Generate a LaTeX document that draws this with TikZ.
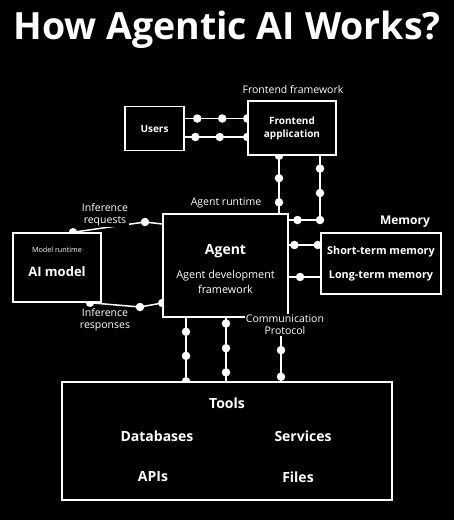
\documentclass[tikz,border=0pt]{standalone}
\usepackage{fontspec}
\setmainfont{Open Sans}
\usetikzlibrary{positioning}
\pgfdeclarelayer{canvas}
\pgfdeclarelayer{wires}
\pgfsetlayers{canvas,wires,main}

\tikzset{
  box/.style={draw=white, fill=black, line width=1.5pt, inner sep=0pt},
  wire/.style={draw=white, line width=1.5pt},
  dot/.style={circle, fill=white, inner sep=0pt, minimum size=8.5pt},
  txt/.style={text=white, font=\fontsize{10.5}{12}\selectfont, align=center, inner sep=1pt},
  bold/.style={text=white, font=\fontsize{10}{13}\selectfont\bfseries, align=center},
}

\begin{document}
\begin{tikzpicture}[x=1pt, y=-1pt]
	\useasboundingbox (0,0) rectangle (454,520);
	\begin{pgfonlayer}{canvas}
		\fill[black] (0,0) rectangle (454,520);
	\end{pgfonlayer}
	
	\node[text=white, font=\fontsize{37.5}{40}\selectfont\bfseries, anchor=base] (title) at (227,39) {How Agentic AI Works?};
	
	% boxes
	\node[box, bold, minimum width=59pt, minimum height=44pt] (users) at (154.5,128.5) {Users};
	\node[box, bold, minimum width=88pt, minimum height=54pt] (front) at (292,128) {Frontend\\application};
	\node[box, minimum width=125pt, minimum height=103pt] (agent) at (225.5,265.5) {};
	\node[box, minimum width=120pt, minimum height=61pt] (memory) at (381,263.5) {};
	\node[box, minimum width=88pt, minimum height=69pt] (model) at (57,267.5) {};
	\node[box, minimum width=330pt, minimum height=118pt] (tools) at (227,441) {};
	
	% texts in the boxes
	\node[bold, font=\fontsize{14}{16}\selectfont\bfseries] (agentname) at (225.5,251) {Agent};
	\node[txt, font=\fontsize{10.8}{15}\selectfont] (agentsub) at (225.5,282) {Agent development\\framework};
	\node[txt, font=\fontsize{7.2}{8}\selectfont] (modelsub) at (57,250) {Model runtime};
	\node[bold, font=\fontsize{13}{15}\selectfont\bfseries] (modelname) at (57,272) {AI model};
	\node[bold, font=\fontsize{10.8}{13}\selectfont\bfseries] (shortmem) at (381,252) {Short-term memory};
	\node[bold, font=\fontsize{10.8}{13}\selectfont\bfseries] (longmem) at (381,276) {Long-term memory};
	\node[bold, font=\fontsize{14}{16}\selectfont\bfseries] (toolsname) at (227,403) {Tools};
	\node[bold, font=\fontsize{14}{16}\selectfont\bfseries] (databases) at (157,436) {Databases};
	\node[bold, font=\fontsize{14}{16}\selectfont\bfseries] (services) at (303,436) {Services};
	\node[bold, font=\fontsize{14}{16}\selectfont\bfseries] (apis) at (153,477) {APIs};
	\node[bold, font=\fontsize{14}{16}\selectfont\bfseries] (files) at (298,477) {Files};
	
	% labels
	\node[txt] (frontlbl) at (293,90) {Frontend framework};
	\node[txt] (runtimelbl) at (226,203) {Agent runtime};
	\node[bold, font=\fontsize{12}{14}\selectfont\bfseries] (memlbl) at (405,222) {Memory};
	\node[txt, fill=black] (reqlbl) at (105,215) {Inference\\requests};
	\node[txt, fill=black] (reslbl) at (105,320) {Inference\\responses};
	\node[txt, fill=black] (comm) at (285,325) {Communication\\Protocol};
	
	\coordinate (reqbend) at (145,222);
	\coordinate (resbend) at (140,307);
	
	% connectors
	\begin{pgfonlayer}{wires}
		\draw[wire] ([yshift=10pt]users.east) -- ([yshift=10pt]users.east -| front.west)
			node[dot, pos=0.2] (ua1) {} node[dot, pos=0.6] (ua2) {} node[dot, pos=1] (ua3) {};
		\draw[wire] ([yshift=-8.5pt]users.east) -- ([yshift=-8.5pt]users.east -| front.west)
			node[dot, pos=0.17] (ub1) {} node[dot, pos=0.56] (ub2) {} node[dot, pos=1] (ub3) {};
		
		\draw[wire] ([xshift=-13pt]front.south) -- ([xshift=-13pt]front.south |- agent.north)
			node[dot, pos=0] (fa1) {} node[dot, pos=0.39] (fa2) {} node[dot, pos=0.81] (fa3) {};
		\draw[wire] ([xshift=28pt]front.south) |- ([yshift=45.5pt]agent.east)
			node[dot, pos=0.1] (fb1) {} node[dot, pos=0.29] (fb2) {} node[dot, pos=0.5] (fb3) {} node[dot, pos=0.86] (fb4) {};
		
		\draw[wire] ([yshift=20.5pt]agent.east) -- ([yshift=20.5pt]agent.east -| memory.west)
			node[dot, pos=0.18] (ma1) {} node[dot, pos=0.92] (ma2) {};
		\draw[wire] ([yshift=-11.5pt]agent.east) -- ([yshift=-11.5pt]agent.east -| memory.west)
			node[dot, pos=0.36] (mb1) {};
		
		\draw[wire] ([yshift=41.5pt]agent.west) -- (reqbend) node[dot] (rq1) {}
			-- ([xshift=16pt]model.north) node[dot] (rq2) {};
		\draw[wire] ([yshift=-37.5pt]agent.west) node[dot] (rs0) {} -- (resbend) node[dot] (rs1) {}
			-- ([xshift=33pt]model.south) node[dot] (rs2) {};
		
		\draw[wire] ([xshift=-39.5pt]agent.south) -- ([xshift=-39.5pt]agent.south |- tools.north)
			node[dot, pos=0.22] (ta1) {} node[dot, pos=0.6] (ta2) {} node[dot, pos=1] (ta3) {};
		\draw[wire] ([xshift=0.5pt]agent.south) -- ([xshift=0.5pt]agent.south |- tools.north)
			node[dot, pos=0.09] (tb1) {} node[dot, pos=0.48] (tb2) {} node[dot, pos=0.86] (tb3) {};
		\draw[wire] ([xshift=-4pt]comm.south) -- ([xshift=-4pt]comm.south |- tools.north)
			node[dot, pos=0.31] (tc1) {} node[dot, pos=0.9] (tc2) {};
	\end{pgfonlayer}
\end{tikzpicture}
\end{document}
